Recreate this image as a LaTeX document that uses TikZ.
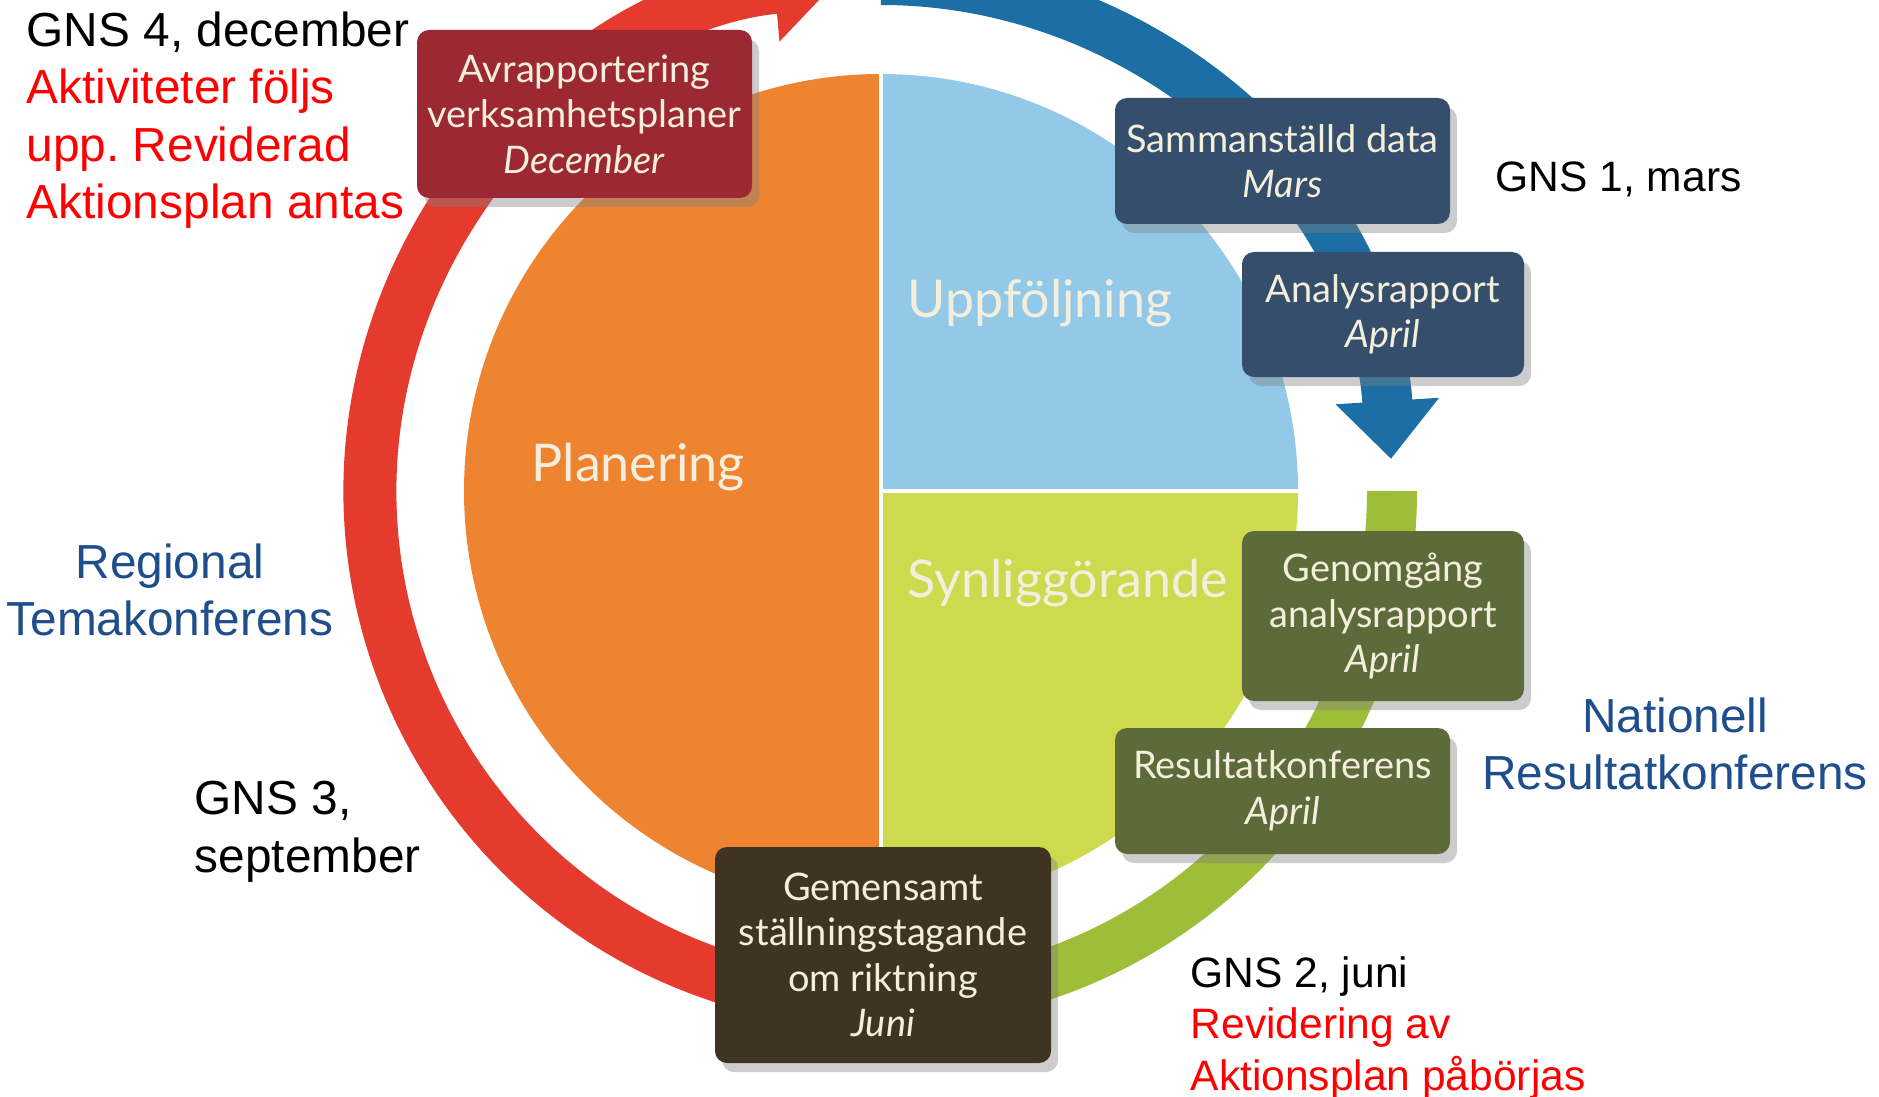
\documentclass[tikz,border=0pt]{standalone}
\usepackage{fontspec}
\setmainfont{Liberation Sans}
\newfontfamily\latofont{Lato}
\usetikzlibrary{arrows.meta,shadows}

\definecolor{ringred}{HTML}{E53B2E}
\definecolor{ringblue}{HTML}{1B6FA5}
\definecolor{ringgreen}{HTML}{9EBD38}
\definecolor{planorange}{HTML}{EE8330}
\definecolor{uppblue}{HTML}{93C9E8}
\definecolor{synlgreen}{HTML}{CDDA4D}
\definecolor{boxred}{HTML}{9C2833}
\definecolor{boxnavy}{HTML}{354E6B}
\definecolor{boxolive}{HTML}{5D6B3A}
\definecolor{boxbrown}{HTML}{3F3422}
\definecolor{boxtext}{HTML}{F3EFDC}
\definecolor{labelblue}{HTML}{1F4E8D}
\definecolor{alertred}{HTML}{FF0000}

\tikzset{
	stepbox/.style={rounded corners=0.12cm, align=center, text=boxtext, inner sep=0pt,
		font=\latofont\fontsize{10.8}{12.95}\selectfont,
		drop shadow={shadow xshift=0.07cm, shadow yshift=-0.09cm, opacity=0.4}},
	quarter/.style={anchor=west, inner sep=0pt, text=boxtext,
		font=\latofont\fontsize{14.8}{18}\selectfont},
	gnslabel/.style={align=left, anchor=base west, inner sep=0pt,
		font=\fontsize{13.6}{16.36}\selectfont},
	conflabel/.style={align=center, anchor=base, inner sep=0pt, text=labelblue,
		font=\fontsize{13.6}{16.36}\selectfont},
}

\begin{document}
\frenchspacing
\begin{tikzpicture}
\useasboundingbox (0,0) rectangle (18.79,10.96);
\clip (0,0) rectangle (18.79,10.96);
\coordinate (c) at (8.81,6.05);
% the four parts of the disc
		\fill[planorange] (c) -- ([shift={(90:4.17)}]c) arc (90:270:4.17) -- cycle;
		\fill[uppblue] (c) -- ([shift={(0:4.17)}]c) arc (0:90:4.17) -- cycle;
		\fill[synlgreen] (c) -- ([shift={(0:4.17)}]c) arc (0:-90:4.17) -- cycle;
		\draw[white, line width=1.2pt] ([shift={(0,4.17)}]c) -- ([shift={(0,-4.17)}]c);
		\draw[white, line width=1.2pt] (c) -- ([shift={(4.17,0)}]c);
% the cycle round it
		\draw[ringred, line width=0.53cm, -{Triangle[length=0.62cm, width=1.05cm]}]
		([shift={(255:5.11)}]c) arc (255:95:5.11);
		\draw[ringblue, line width=0.5cm, -{Triangle[length=0.58cm, width=1.0cm]}]
		([shift={(90:5.11)}]c) arc (90:3.6:5.11);
		\draw[ringgreen, line width=0.5cm] ([shift={(0:5.11)}]c) arc (0:-75:5.11);
% names of the parts
		\node[quarter] (planering) at (5.31,6.29) {Planering};
		\node[quarter] (uppfoljning) at (9.07,7.93) {Uppföljning};
		\node[quarter] (synlig) at (9.07,5.13) {Synliggörande};
% steps
		\node[stepbox, fill=boxred, minimum width=3.35cm, minimum height=1.68cm]
		(avrap) at (5.845,9.82) {Avrapportering\\verksamhetsplaner\\\textit{December}};
		\node[stepbox, fill=boxnavy, minimum width=3.35cm, minimum height=1.26cm]
		(samdata) at (12.825,9.35) {Sammanställd data\\\textit{Mars}};
		\node[stepbox, fill=boxnavy, minimum width=2.82cm, minimum height=1.25cm]
		(analys) at (13.83,7.815) {Analysrapport\\\textit{April}};
		\node[stepbox, fill=boxolive, minimum width=2.82cm, minimum height=1.70cm]
		(genomgang) at (13.83,4.80) {Genomgång\\analysrapport\\\textit{April}};
		\node[stepbox, fill=boxolive, minimum width=3.35cm, minimum height=1.26cm]
		(resultat) at (12.825,3.05) {Resultatkonferens\\\textit{April}};
		\node[stepbox, fill=boxbrown, minimum width=3.36cm, minimum height=2.16cm]
		(gemensamt) at (8.83,1.41) {Gemensamt\\ställningstagande\\om riktning\\\textit{Juni}};
% meetings (base = last line)
		\node[gnslabel] (gnsfour) at (0.26,8.775) {GNS 4, december\\
		\textcolor{alertred}{Aktiviteter följs}\\\textcolor{alertred}{upp. Reviderad}\\
		\textcolor{alertred}{Aktionsplan antas}};
		\node[gnslabel, font=\fontsize{12.1}{14.65}\selectfont] (gnsone) at (14.95,9.04)
		{GNS 1, mars};
		\node[gnslabel, font=\fontsize{13.6}{16.7}\selectfont] (gnsthree) at (1.94,2.233)
		{GNS 3,\\september};
		\node[gnslabel, font=\fontsize{12.1}{14.65}\selectfont] (gnstwo) at (11.90,0.06)
		{GNS 2, juni\\\textcolor{alertred}{Revidering av}\\\textcolor{alertred}{Aktionsplan påbörjas}};
		\node[conflabel] (regional) at (1.70,4.605) {Regional\\Temakonferens};
		\node[conflabel] (nationell) at (16.75,3.065) {Nationell\\Resultatkonferens};
\end{tikzpicture}
\end{document}
